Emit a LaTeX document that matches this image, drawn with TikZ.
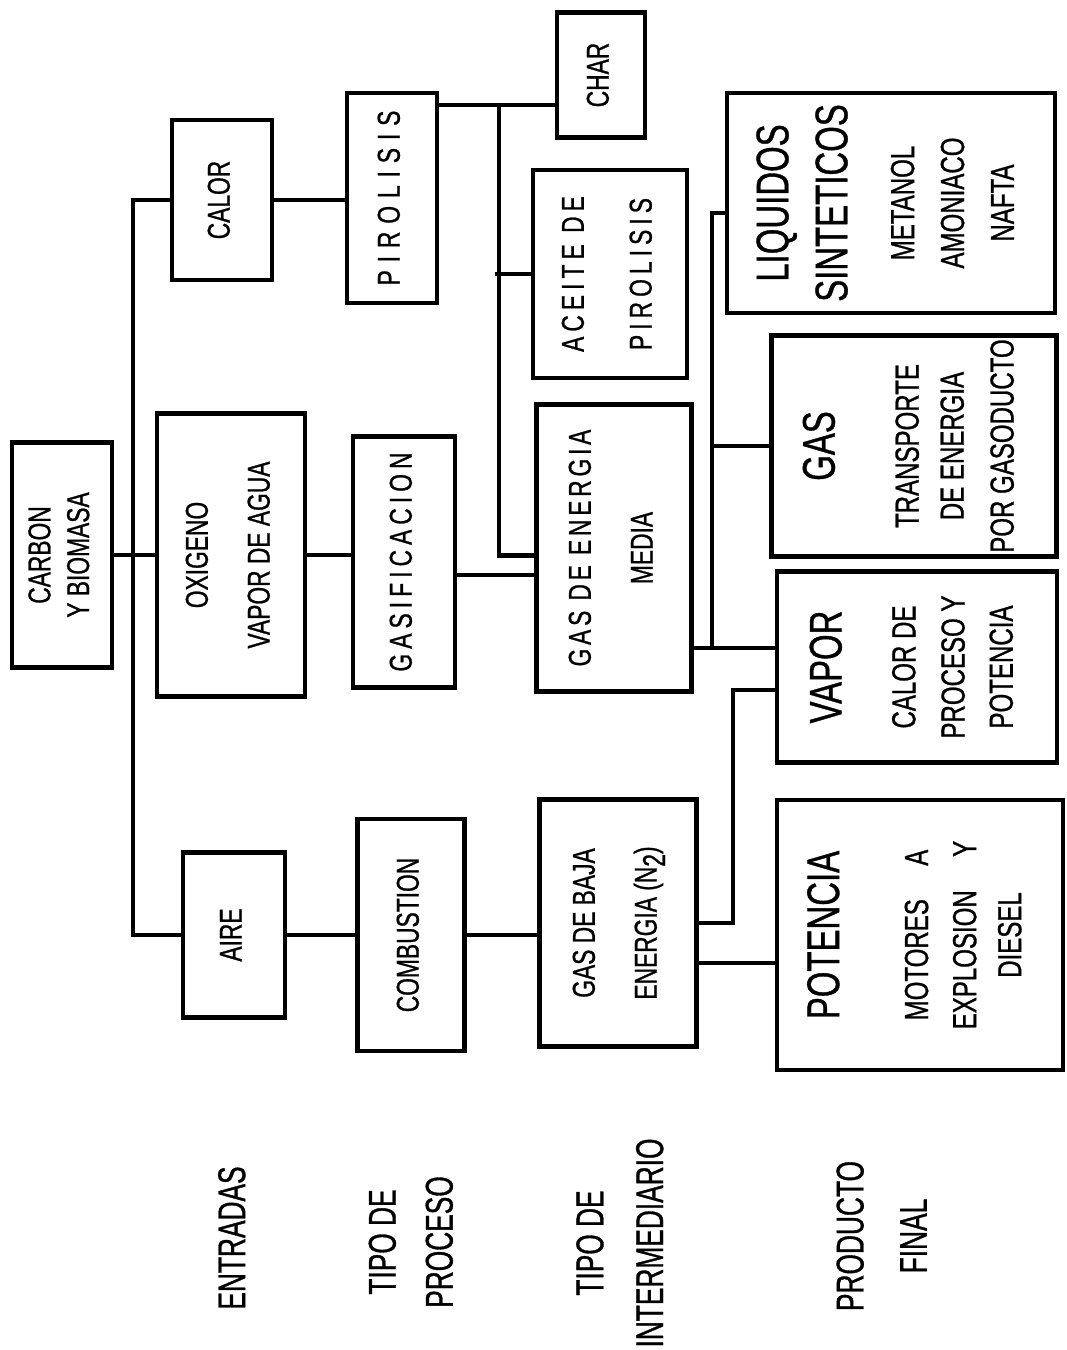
\documentclass[tikz,border=0pt]{standalone}
\usepackage{fontspec}
\usepackage{tikz}
\usetikzlibrary{calc}
\newfontfamily\condfont[FakeStretch=0.72,FakeBold=0.8]{Liberation Sans}
\newfontfamily\rotfont[FakeStretch=0.68,FakeBold=0.8]{Liberation Sans}
\newcommand{\vtexto}[1]{\rotatebox{90}{\begin{tabular}{@{}c@{}}#1\end{tabular}}}
\newcommand{\grande}{\fontsize{13}{15}\selectfont}
\newcommand{\chico}{\fontsize{9.5}{11.5}\selectfont}
\newcommand{\abierto}[1][16]{\addfontfeature{LetterSpace=#1}}

\begin{document}
\begin{tikzpicture}[x=0.01cm,y=-0.01cm,
  caja/.style={draw, line width=1.2pt, inner sep=0pt, font=\condfont\fontsize{9}{11}\selectfont},
  enlace/.style={line width=1.2pt},
  rotulo/.style={inner sep=0pt, font=\rotfont\fontsize{11}{13}\selectfont}]
\useasboundingbox (0,0) rectangle (1067,1350);

\node[caja, minimum width=1cm, minimum height=2.25cm] (carbon) at (62,555) {\vtexto{CARBON\\Y BIOMASA}};
\node[caja, minimum width=1cm, minimum height=1.6cm] (calor) at (222,200) {\vtexto{CALOR}};
\node[caja, minimum width=1.48cm, minimum height=2.83cm] (oxigeno) at (231,555) {\vtexto{OXIGENO\\[6.6pt]VAPOR DE AGUA}};
\node[caja, minimum width=1.02cm, minimum height=1.65cm] (aire) at (234,935) {\vtexto{AIRE}};

\node[caja, minimum width=0.9cm, minimum height=2.1cm] (pirolisis) at (392,198) {\vtexto{\abierto[25]PIROLISIS}};
\node[caja, minimum width=1.02cm, minimum height=2.51cm] (gasif) at (404,562) {\vtexto{\abierto GASIFICACION}};
\node[caja, minimum width=1.07cm, minimum height=2.32cm] (combustion) at (411,935) {\vtexto{COMBUSTION}};

\node[caja, minimum width=0.88cm, minimum height=1.25cm] (char) at (601,75) {\vtexto{CHAR}};
\node[caja, minimum width=1.54cm, minimum height=2.08cm] (aceite) at (610,274) {\vtexto{\abierto ACEITE DE\\[8.3pt]\abierto PIROLISIS}};
\node[caja, minimum width=1.55cm, minimum height=2.87cm] (gasmedia) at (614,548) {\vtexto{\abierto[12]GAS DE ENERGIA\\[6.6pt]MEDIA}};
\node[caja, minimum width=1.57cm, minimum height=2.47cm] (gasbaja) at (618,923) {\vtexto{GAS DE BAJA\\[6.6pt]ENERGIA (N\raisebox{-0.5ex}{2})}};

\node[caja, minimum width=3.28cm, minimum height=2.2cm] (liquidos) at (891,203) {\vtexto{\grande LIQUIDOS\\[4.4pt]\grande SINTETICOS\\[8pt]\chico METANOL\\[3.2pt]\chico AMONIACO\\[3.2pt]\chico NAFTA}};
\node[caja, minimum width=2.85cm, minimum height=2.21cm] (gas) at (914,446) {\vtexto{\grande GAS\\[12.9pt]\chico TRANSPORTE\\[1.8pt]\chico DE ENERGIA\\[3.2pt]\chico POR GASODUCTO}};
\node[caja, minimum width=2.8cm, minimum height=1.91cm] (vapor) at (917,667) {\vtexto{\grande VAPOR\\[10pt]\chico CALOR DE\\[3pt]\chico PROCESO Y\\[2.7pt]\chico POTENCIA}};
\node[caja, minimum width=2.86cm, minimum height=2.7cm] (potencia) at (920,935) {\vtexto{\grande POTENCIA\\[14.3pt]\chico MOTORES\quad A\\[2.7pt]\chico EXPLOSION\quad Y\\[1.8pt]\chico DIESEL}};

\node[rotulo] (entradas) at (236,1238) {\vtexto{ENTRADAS}};
\node[rotulo] (proceso) at (415,1242) {\vtexto{TIPO DE\\[3.2pt]PROCESO}};
\node[rotulo] (intermedio) at (624,1243) {\vtexto{TIPO DE\\[4pt]INTERMEDIARIO}};
\node[rotulo] (producto) at (886,1236) {\vtexto{PRODUCTO\\[5pt]FINAL}};

\draw[enlace] (calor.west) -- ++(-37,0) |- (aire.west);
\foreach \a/\b in {carbon/oxigeno, aire/combustion}
  \draw[enlace] (\a) -- (\b);
\draw[enlace] (calor.east) -- (calor.east -| pirolisis.west);
\draw[enlace] (oxigeno.east) -- (oxigeno.east -| gasif.west);
\draw[enlace] ([yshift=-0.13cm]gasif.east) -- ([yshift=-0.13cm]gasif.east -| gasmedia.west);
\draw[enlace] (combustion.east) -- (combustion.east -| gasbaja.west);

\coordinate (pc) at ([yshift=0.93cm]pirolisis.east);
\draw[enlace] (pc) -- (pc -| char.west);
\draw[enlace] (pc) ++(60,0) |- ([yshift=-0.075cm]gasmedia.west);
\draw[enlace] (aceite.west) -- ++(-36,0);

\coordinate (v1) at (712,648);
\draw[enlace] (gasmedia.east |- v1) -- (vapor.west |- v1);
\draw[enlace] ([yshift=-0.1cm]liquidos.west) -| (v1);
\draw[enlace] (gas.west) -- (gas.west -| v1);
\coordinate (v2) at (733,690);
\draw[enlace] (gasbaja.east) -| (v2) -- (vapor.west |- v2);
\draw[enlace] ([yshift=-0.4cm]gasbaja.east) -- ([yshift=-0.4cm]gasbaja.east -| potencia.west);
\end{tikzpicture}
\end{document}
